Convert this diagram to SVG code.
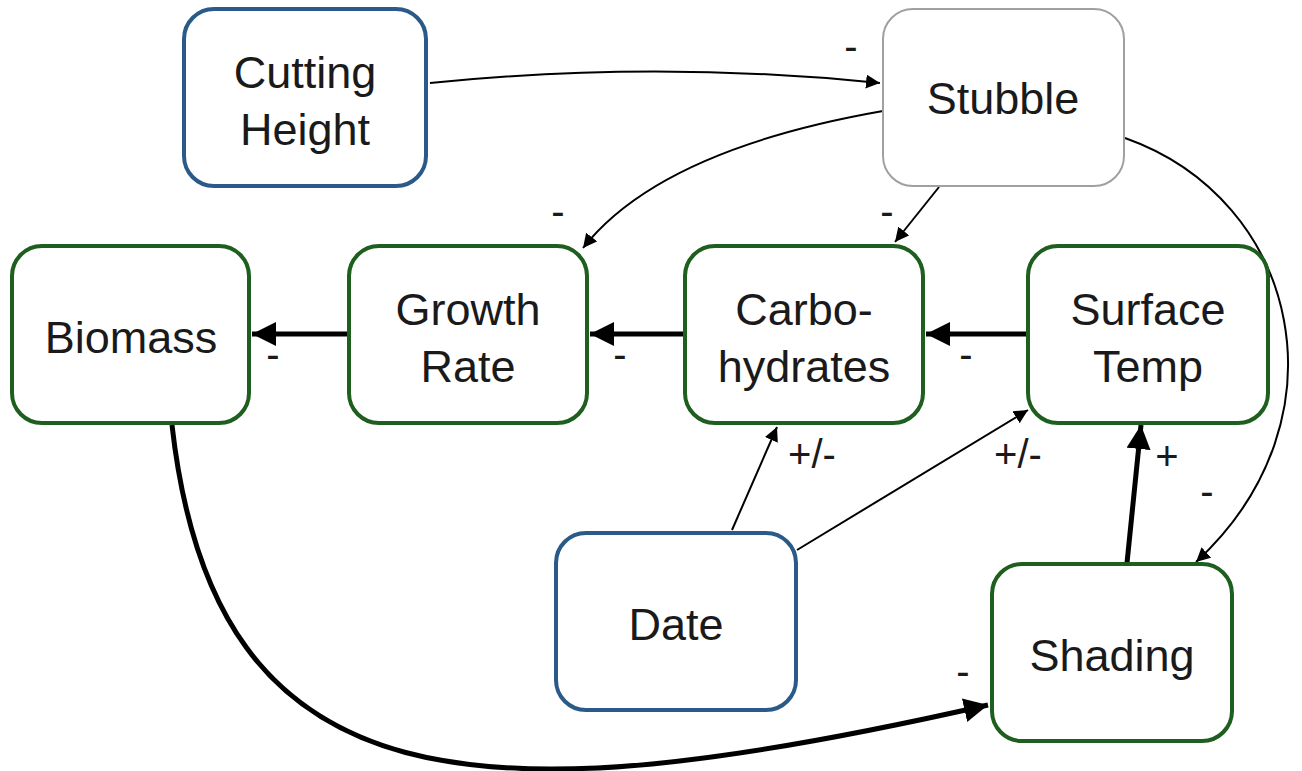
<svg xmlns="http://www.w3.org/2000/svg" width="1302" height="771" viewBox="0 0 1302 771">
<style>
.box{fill:#fff;stroke-width:4}
.blue{stroke:#2a5a88}
.green{stroke:#1e5e1e}
.gray{stroke:#a0a0a0;stroke-width:2}
.lbl{font-family:"Liberation Sans",Arial,sans-serif;font-size:45px;fill:#1a1a1a;text-anchor:middle}
.sgn{font-family:"Liberation Sans",Arial,sans-serif;font-size:40px;fill:#1a1a1a;text-anchor:middle}
.thin{fill:none;stroke:#000;stroke-width:2;marker-end:url(#a1)}
.thick{fill:none;stroke:#000;stroke-width:5;marker-end:url(#a2)}
</style>
<defs>
<marker id="a1" markerUnits="userSpaceOnUse" markerWidth="16" markerHeight="14" refX="14" refY="7" orient="auto"><path d="M0,0 L14,7 L0,14 Z" fill="#000"/></marker>
<marker id="a2" markerUnits="userSpaceOnUse" markerWidth="26" markerHeight="24" refX="24" refY="12" orient="auto"><path d="M0,0 L24,12 L0,24 Z" fill="#000"/></marker>
</defs>
<rect width="1302" height="771" fill="#fff"/>
<g id="connectors">
<path class="thin" d="M430,83 Q655,60 880,83"/>
<path class="thin" d="M883,111 Q660,150 583,248"/>
<path class="thin" d="M939,187 L895,242"/>
<path class="thin" d="M1125,138 C1300,200 1350,420 1196,562"/>
<path class="thick" d="M349,334 L252,334"/>
<path class="thick" d="M685,334 L590,334"/>
<path class="thick" d="M1028,334 L926,334"/>
<path class="thin" d="M732,530 L777,427"/>
<path class="thin" d="M797,550 L1028,410"/>
<path class="thick" d="M1127,563 L1141,425"/>
<path class="thick" d="M172,425 C215,810 480,820 988,705"/>
<text class="sgn" x="851" y="60">-</text>
<text class="sgn" x="558" y="225">-</text>
<text class="sgn" x="887" y="225">-</text>
<text class="sgn" x="1207" y="505">-</text>
<text class="sgn" x="273" y="368">-</text>
<text class="sgn" x="620" y="368">-</text>
<text class="sgn" x="966" y="368">-</text>
<text class="sgn" x="812" y="468">+/-</text>
<text class="sgn" x="1018" y="468">+/-</text>
<text class="sgn" x="1167" y="470">+</text>
<text class="sgn" x="963" y="685">-</text>
</g>
<g id="cutting-height"><rect class="box blue" x="184" y="9" width="242" height="177" rx="30"/><text class="lbl" x="305" y="88">Cutting</text><text class="lbl" x="305" y="145">Height</text></g>
<g id="stubble"><rect class="box gray" x="883" y="9" width="241" height="177" rx="30"/><text class="lbl" x="1003" y="114">Stubble</text></g>
<g id="biomass"><rect class="box green" x="12" y="246" width="237" height="177" rx="30"/><text class="lbl" x="131" y="353">Biomass</text></g>
<g id="growth-rate"><rect class="box green" x="349" y="246" width="238" height="177" rx="30"/><text class="lbl" x="468" y="325">Growth</text><text class="lbl" x="468" y="382">Rate</text></g>
<g id="carbohydrates"><rect class="box green" x="685" y="246" width="238" height="177" rx="30"/><text class="lbl" x="804" y="325">Carbo-</text><text class="lbl" x="804" y="382">hydrates</text></g>
<g id="surface-temp"><rect class="box green" x="1028" y="246" width="240" height="177" rx="30"/><text class="lbl" x="1148" y="325">Surface</text><text class="lbl" x="1148" y="382">Temp</text></g>
<g id="date"><rect class="box blue" x="556" y="533" width="240" height="177" rx="30"/><text class="lbl" x="676" y="640">Date</text></g>
<g id="shading"><rect class="box green" x="992" y="564" width="240" height="177" rx="30"/><text class="lbl" x="1112" y="671">Shading</text></g>
</svg>
